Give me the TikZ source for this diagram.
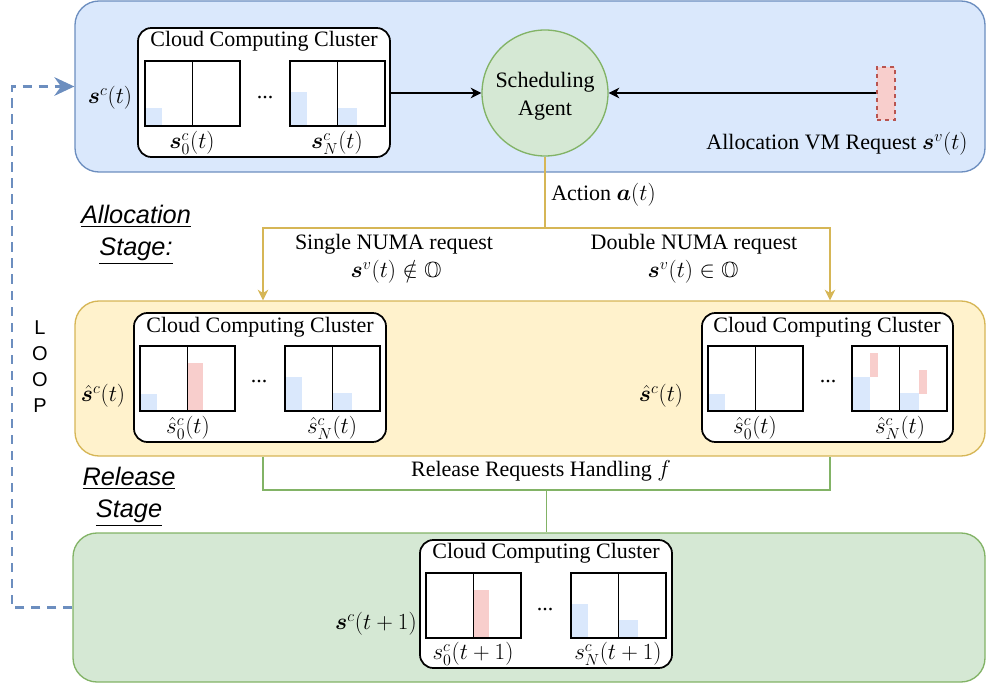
\documentclass[tikz,border=0pt]{standalone}
\usepackage{amsmath,amssymb,bm}
\usepackage{fontspec}
\setmainfont{Liberation Serif}
\newfontfamily\labelsans{Liberation Sans}
\usetikzlibrary{arrows.meta,fit,calc}

\definecolor{blueFill}{HTML}{DAE8FC}
\definecolor{blueLine}{HTML}{6C8EBF}
\definecolor{yellowFill}{HTML}{FFF2CC}
\definecolor{yellowLine}{HTML}{D6B656}
\definecolor{greenFill}{HTML}{D5E8D4}
\definecolor{greenLine}{HTML}{82B366}
\definecolor{redFill}{HTML}{F8CECC}
\definecolor{redLine}{HTML}{B85450}

\tikzset{
  stagebox/.style={rounded corners=18pt, line width=1pt, inner sep=0pt},
  clusterbox/.style={draw=black, fill=white, rounded corners=10pt, line width=1.3pt, inner sep=0pt},
  srv/.style={draw=black, line width=1.3pt},
  txt/.style={font=\fontsize{16.5}{20}\selectfont, inner sep=0pt},
  stagelbl/.style={font=\fontsize{19}{24}\selectfont\labelsans\itshape, align=center, inner sep=0pt},
  blackarr/.style={draw=black, line width=1.1pt, -{Stealth[length=8pt, width=8pt, inset=2.5pt]}},
  yellowarr/.style={draw=yellowLine, line width=1.1pt, -{Stealth[length=8pt, width=8pt, inset=2.5pt]}},
  yellowln/.style={draw=yellowLine, line width=1.1pt},
  greenln/.style={draw=greenLine, line width=1.1pt},
  loopln/.style={draw=blueLine, line width=1.8pt, dash pattern=on 7pt off 5pt,
    -{Stealth[length=15pt, width=14pt, inset=5pt]}},
  bluebar/.style={fill=blueFill},
  redbar/.style={fill=redFill},
  server/.pic={
    \draw[srv] (0,0) rectangle (95,65);
    \draw[srv] (47.5,0) -- (47.5,65);
  }
}

\begin{document}
\begin{tikzpicture}[x=0.75pt, y=-0.75pt]
\useasboundingbox (0,0) rectangle (986,688);

% ---------- stage backgrounds ----------
\node[stagebox, draw=blueLine, fill=blueFill, fit={(75,1)(985,172)}] (bbox) {};
\node[stagebox, draw=yellowLine, fill=yellowFill, fit={(75,301)(985,456)}] (ybox) {};
\node[stagebox, draw=greenLine, fill=greenFill, fit={(73,533)(985,682)}] (gbox) {};

% ---------- allocation stage (top) ----------
\node[clusterbox, fit={(138,28)(390,157)}] (cl1) {};
\node[txt] (cl1t) at (264,41) {Cloud Computing Cluster};
\fill[bluebar] (145,108) rectangle (162,126);
\fill[bluebar] (290,92) rectangle (307,126);
\fill[bluebar] (338,108) rectangle (357,126);
\pic at (145,61) {server};
\pic at (290,61) {server};
\node[txt] (cl1d) at (265,98) {...};
\node[txt] (cl1a) at (192,143) {$\bm{s}^c_0(t)$};
\node[txt] (cl1b) at (337,143) {$\bm{s}^c_N(t)$};
\node[txt] (sct) at (110,98) {$\bm{s}^c(t)$};

\node[circle, draw=greenLine, fill=greenFill, line width=1pt, minimum size=94.5pt,
      inner sep=0pt] (agent) at (545,93) {};
\node[align=center, inner sep=0pt, font=\fontsize{16.5}{21}\selectfont] (agentt) at (545,96)
      {Scheduling\\Agent};

\node[draw=redLine, fill=redFill, dashed, line width=0.9pt, inner sep=0pt,
      fit={(877,67)(895,120)}] (req) {};
\node[txt] (reqt) at (837,144) {Allocation VM Request $\bm{s}^v(t)$};

\draw[blackarr] (cl1.east |- agent.west) -- (agent.west);
\draw[blackarr] (req.west |- agent.east) -- (agent.east);

% ---------- action split ----------
\coordinate (aL) at (263,228);
\coordinate (aR) at (830,228);
\draw[yellowln] (agent.south) -- (agent.south |- aL);
\draw[yellowarr] (aL -| agent.south) -- (aL) -- (aL |- ybox.north);
\draw[yellowarr] (aR -| agent.south) -- (aR) -- (aR |- ybox.north);
\node[txt, anchor=west] (act) at (551,195) {Action $\bm{a}(t)$};
\node[txt] (sgl1) at (394,244) {Single NUMA request};
\node[txt] (sgl2) at (396,272) {$\bm{s}^v(t)\notin\mathbb{O}$};
\node[txt] (dbl1) at (694,244) {Double NUMA request};
\node[txt] (dbl2) at (693,272) {$\bm{s}^v(t)\in\mathbb{O}$};

% ---------- after allocation (middle) ----------
\node[clusterbox, fit={(134,313)(386,442)}] (cl2) {};
\node[txt] (cl2t) at (260,327) {Cloud Computing Cluster};
\fill[bluebar] (140,394) rectangle (157,411);
\fill[redbar] (188,363) rectangle (203,411);
\fill[bluebar] (285,377) rectangle (302,411);
\fill[bluebar] (332,393) rectangle (352,411);
\pic at (140,346) {server};
\pic at (285,346) {server};
\node[txt] (cl2d) at (259,382) {...};
\node[txt] (cl2a) at (188,428) {$\hat{s}^c_0(t)$};
\node[txt] (cl2b) at (332,428) {$\hat{s}^c_N(t)$};
\node[txt] (hsl) at (103,396) {$\hat{\bm{s}}^c(t)$};

\node[clusterbox, fit={(702,313)(953,442)}] (cl3) {};
\node[txt] (cl3t) at (827,327) {Cloud Computing Cluster};
\fill[bluebar] (708,394) rectangle (725,411);
\fill[bluebar] (852,377) rectangle (870,411);
\fill[redbar] (870,353) rectangle (878,377);
\fill[bluebar] (900,393) rectangle (919,411);
\fill[redbar] (919,370) rectangle (927,394);
\pic at (708,346) {server};
\pic at (852,346) {server};
\node[txt] (cl3d) at (828,382) {...};
\node[txt] (cl3a) at (755,428) {$\hat{s}^c_0(t)$};
\node[txt] (cl3b) at (900,428) {$\hat{s}^c_N(t)$};
\node[txt] (hsr) at (661,396) {$\hat{\bm{s}}^c(t)$};

% ---------- release ----------
\coordinate (rL) at (263,490);
\coordinate (rR) at (830,490);
\coordinate (rM) at ($(rL)!0.5!(rR)$);
\draw[greenln] (rL |- ybox.south) -- (rL) -- (rR) -- (rR |- ybox.south);
\draw[greenln] (rM) -- (rM |- gbox.north);
\node[txt] (rel) at (541,471) {Release Requests Handling $f$};

% ---------- next state (bottom) ----------
\node[clusterbox, fit={(420,540)(672,668)}] (cl4) {};
\node[txt] (cl4t) at (546,553) {Cloud Computing Cluster};
\fill[redbar] (473,590) rectangle (489,638);
\fill[bluebar] (571,604) rectangle (588,638);
\fill[bluebar] (618,620) rectangle (638,638);
\pic at (426,573) {server};
\pic at (571,573) {server};
\node[txt] (cl4d) at (545,610) {...};
\node[txt] (cl4a) at (473,654) {$s^c_0(t+1)$};
\node[txt] (cl4b) at (618,654) {$s^c_N(t+1)$};
\node[txt, anchor=east] (snext) at (417,624) {$\bm{s}^c(t+1)$};

% ---------- stage titles and loop ----------
\node[stagelbl] (alloc) at (136,235) {\underline{Allocation}\\\underline{Stage:}};
\node[stagelbl] (relst) at (129,497) {\underline{Release}\\\underline{Stage}};
\node[align=center, inner sep=0pt, font=\fontsize{15}{19.5}\selectfont\labelsans] (loop) at (40,367)
  {L\\O\\O\\P};

\coordinate (lp) at (12,300);
\draw[loopln] (gbox.west) -- (gbox.west -| lp) |- (bbox.west);
\end{tikzpicture}
\end{document}
